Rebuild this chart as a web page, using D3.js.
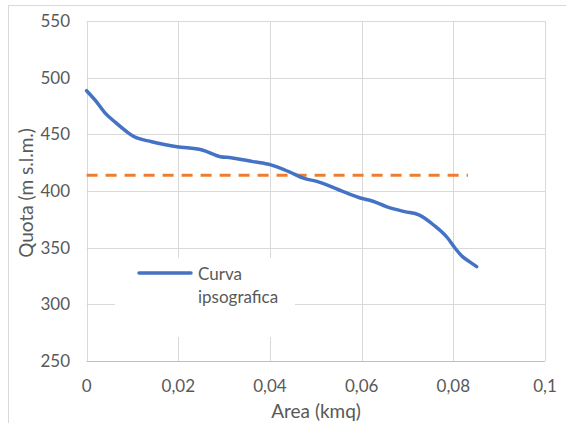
<!DOCTYPE html>
<html><head><meta charset="utf-8">
<script src="https://cdn.jsdelivr.net/npm/d3@7"></script>
<style>body{margin:0;background:#fff}svg{display:block}text{font-family:Lato,"Open Sans",sans-serif}</style>
</head><body>
<script>
const areaKmq = [0,0.002,0.004,0.0063,0.0087,0.0103,0.0142,0.0197,0.0252,0.0292,0.0315,0.0363,0.0402,0.0441,0.0473,0.0504,0.056,0.0599,0.0623,0.0654,0.0694,0.0725,0.0757,0.0788,0.0804,0.082,0.0835,0.0851];
const quota = [488.5,479.5,469,460.5,452.5,448,443.5,439.1,436.2,430.3,429.4,425.9,423,417.1,411.3,408.3,399.4,393.6,391.2,386.2,381.8,378.9,370,358.3,349.5,342.1,337.7,333.3];
const refLevel = 414;
const refArea = [0, 0.0832];
const xTicks = [0,0.02,0.04,0.06,0.08,0.1];
const yTicks = [250,300,350,400,450,500,550];
const seriesName = ["Curva","ipsografica"];

const W=566,H=423;
const svg=d3.select("body").append("svg").attr("width",W).attr("height",H);
svg.append("rect").attr("x",8.5).attr("y",5.5).attr("width",W).attr("height",H).attr("fill","#fff").attr("stroke","#d9d9d9");
const x=d3.scaleLinear().domain([0,0.1]).range([86.6,545]);
const y=d3.scaleLinear().domain([250,550]).range([361,21]);
const fmt=d=>String(d).replace(".",",");

// gridlines
svg.append("g").selectAll("line").data(xTicks).join("line")
  .attr("x1",d=>Math.round(x(d))+0.5).attr("x2",d=>Math.round(x(d))+0.5)
  .attr("y1",y(550)).attr("y2",y(250)).attr("stroke","#d9d9d9");
svg.append("g").selectAll("line").data(yTicks).join("line")
  .attr("x1",x(0)).attr("x2",x(0.1))
  .attr("y1",d=>Math.round(y(d))+0.5).attr("y2",d=>Math.round(y(d))+0.5)
  .attr("stroke",d=>d===250?"#bfbfbf":"#d9d9d9");

// tick labels
svg.append("g").selectAll("text").data(yTicks).join("text")
  .attr("x",70).attr("y",d=>y(d)+6).attr("text-anchor","end")
  .attr("font-size",17).attr("fill","#595959").text(d=>d);
svg.append("g").selectAll("text").data(xTicks).join("text")
  .attr("x",d=>x(d)).attr("y",392).attr("text-anchor","middle")
  .attr("font-size",17).attr("fill","#595959").text(fmt);

// titles
svg.append("text").attr("x",316).attr("y",418).attr("text-anchor","middle")
  .attr("font-size",19).attr("fill","#595959").text("Area (kmq)");
svg.append("text").attr("transform","translate(33,193) rotate(-90)").attr("text-anchor","middle")
  .attr("font-size",19).attr("fill","#595959").text("Quota (m s.l.m.)");

// reference line
svg.append("line").attr("x1",x(refArea[0])).attr("x2",x(refArea[1]))
  .attr("y1",y(refLevel)).attr("y2",y(refLevel))
  .attr("stroke","#ED7D31").attr("stroke-width",3).attr("stroke-dasharray","11,8");

// curve
const pts=areaKmq.map((a,i)=>[a,quota[i]]);
svg.append("path").datum(pts)
  .attr("d",d3.line().x(d=>x(d[0])).y(d=>y(d[1])).curve(d3.curveMonotoneX))
  .attr("fill","none").attr("stroke","#4472C4").attr("stroke-width",3.5).attr("stroke-linecap","round");

// legend
const lg=svg.append("g");
lg.append("rect").attr("x",115).attr("y",258).attr("width",180).attr("height",79).attr("fill","#fff");
lg.append("line").attr("x1",139).attr("x2",191).attr("y1",273).attr("y2",273)
  .attr("stroke","#4472C4").attr("stroke-width",3.5).attr("stroke-linecap","round");
lg.selectAll("text").data(seriesName).join("text")
  .attr("x",198).attr("y",(d,i)=>280+i*23).attr("font-size",17).attr("fill","#595959").text(d=>d);
</script>
</body></html>
